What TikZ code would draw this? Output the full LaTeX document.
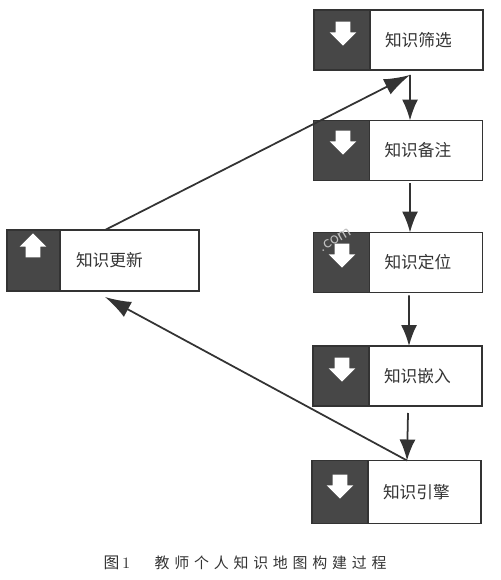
\documentclass[tikz,border=0pt]{standalone}
\usepackage{fontspec}
\newfontfamily\cjk{Noto Sans CJK SC}
\newfontfamily\cjkcap[LetterSpace=32]{Noto Sans CJK SC}
\usetikzlibrary{shapes.arrows, arrows.meta, positioning}

\tikzset{
  textbox/.style={draw=black!80, line width=1pt, fill=white, minimum height=#1, text width=2.26cm,
    inner xsep=0pt, inner ysep=0pt, outer sep=0pt, align=left, font=\cjk\fontsize{9.5}{11}\selectfont, text=black!80},
  darkbox/.style={draw=black!80, line width=1pt, fill=black!72, minimum width=1.12cm, minimum height=#1, inner sep=0pt, outer sep=0pt},
  downmark/.style={single arrow, draw=none, fill=white, minimum height=0.48cm, minimum width=0.52cm,
    single arrow head extend=0.12cm, single arrow tip angle=90, shape border rotate=270, inner sep=0.14cm},
  upmark/.style={downmark, shape border rotate=90},
  flow/.style={line width=1pt, draw=black!80, -{Latex[length=0.42cm,width=0.32cm]}},
  longflow/.style={line width=1pt, draw=black!80, -{Latex[length=0.52cm,width=0.34cm]}}
}

\begin{document}
\begin{tikzpicture}[x=0.02cm, y=-0.02cm]
    \useasboundingbox (0,0) rectangle (500,580);

    \node [textbox=1.2cm] (filter) at (426.5,40) {\hspace*{0.3cm}知识筛选};
    \node [darkbox=1.2cm, left=0pt of filter] (filterdark) {};
    \node [downmark] (filterarrow) at (343,30) {};

    \node [textbox=1.2cm] (note) at (426,150.5) {\hspace*{0.3cm}知识备注};
    \node [darkbox=1.2cm, left=0pt of note] (notedark) {};
    \node [downmark] (notearrow) at (343,139) {};

    \node [textbox=1.2cm] (locate) at (426,262.5) {\hspace*{0.3cm}知识定位};
    \node [darkbox=1.2cm, left=0pt of locate] (locatedark) {};
    \node [font=\sffamily\fontsize{10}{12}\selectfont, text=black!25, rotate=30] (mark) at (335,240) {.com};
    \node [downmark] (locatearrow) at (342,252) {};

    \node [textbox=1.2cm] (embed) at (425.5,376) {\hspace*{0.3cm}知识嵌入};
    \node [darkbox=1.2cm, left=0pt of embed] (embeddark) {};
    \node [downmark] (embedarrow) at (342,366) {};

    \node [textbox=1.26cm] (engine) at (424.5,492) {\hspace*{0.3cm}知识引擎};
    \node [darkbox=1.26cm, left=0pt of engine] (enginedark) {};
    \node [downmark] (enginearrow) at (340,483) {};

    \node [textbox=1.22cm, text width=2.78cm] (update) at (129.5,260.5) {\hspace*{0.32cm}知识更新};
    \node [darkbox=1.22cm, minimum width=1.06cm, left=0pt of update] (updatedark) {};
    \node [upmark] (updatearrow) at (33,249) {};

    \node [font=\fontsize{9}{10}\selectfont, text=black!80] (cap1) at (117,563) {{\cjk 图}\,1};
    \node [font=\cjkcap\fontsize{8.5}{10}\selectfont, text=black!80, right=0.24cm of cap1] (cap2) {教师个人知识地图构建过程};

    \draw [flow] ([xshift=-0.33cm, yshift=-0.1cm]filter.south) -- ([xshift=-0.32cm]note.north);
    \draw [flow] ([xshift=-0.32cm, yshift=-0.06cm]note.south) -- ([xshift=-0.32cm]locate.north);
    \draw [flow] ([xshift=-0.34cm, yshift=-0.06cm]locate.south) -- ([xshift=-0.33cm]embed.north);
    \draw [flow] ([xshift=-0.35cm, yshift=-0.14cm]embed.south) -- ([xshift=-0.35cm]engine.north);
    \draw [longflow] ([xshift=-0.35cm]engine.north) -- ([xshift=-0.49cm, yshift=-0.12cm]update.south);
    \draw [longflow] ([xshift=-0.49cm]update.north) -- ([xshift=-0.33cm, yshift=-0.1cm]filter.south);
\end{tikzpicture}
\end{document}
